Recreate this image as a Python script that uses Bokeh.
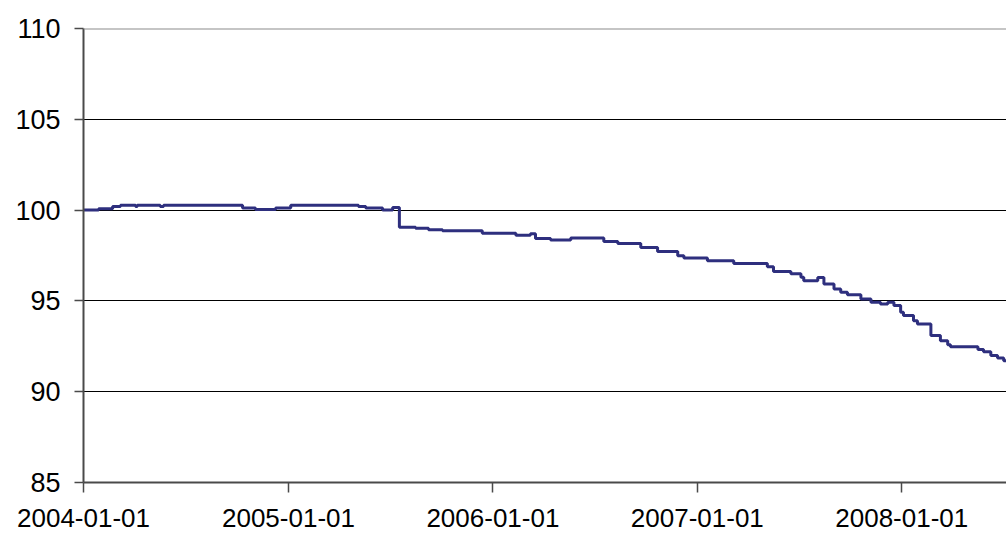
from datetime import datetime
from bokeh.plotting import figure
from bokeh.models import Range1d, FixedTicker, DatetimeTickFormatter, Span
from bokeh.embed import file_html
from bokeh.resources import INLINE

dates = [
    "2004-01-01", "2004-01-28", "2004-02-22", "2004-03-07", "2004-04-03", "2004-04-06",
    "2004-05-17", "2004-05-23", "2004-10-11", "2004-11-03", "2004-12-09", "2005-01-05",
    "2005-05-06", "2005-05-19", "2005-06-18", "2005-07-06", "2005-07-18", "2005-08-16",
    "2005-09-08", "2005-10-03", "2005-12-13", "2006-02-11", "2006-03-09", "2006-03-18",
    "2006-04-14", "2006-05-20", "2006-07-18", "2006-08-12", "2006-09-22", "2006-10-22",
    "2006-11-27", "2006-12-08", "2007-01-19", "2007-03-07", "2007-05-06", "2007-05-17",
    "2007-06-17", "2007-07-05", "2007-07-10", "2007-08-04", "2007-08-15", "2007-09-02",
    "2007-09-14", "2007-09-26", "2007-10-20", "2007-11-07", "2007-11-24", "2007-12-07",
    "2007-12-18", "2007-12-30", "2008-01-04", "2008-01-22", "2008-01-29", "2008-02-22",
    "2008-03-10", "2008-03-23", "2008-03-28", "2008-05-16", "2008-05-26", "2008-06-08",
    "2008-06-20", "2008-07-01", "2008-07-06",
]
values = [
    100.00, 100.08, 100.20, 100.27, 100.20, 100.27,
    100.20, 100.27, 100.11, 100.03, 100.11, 100.27,
    100.20, 100.11, 100.00, 100.15, 99.05, 99.00,
    98.92, 98.86, 98.73, 98.62, 98.70, 98.44,
    98.35, 98.46, 98.27, 98.16, 97.94, 97.72,
    97.49, 97.36, 97.21, 97.06, 96.88, 96.62,
    96.50, 96.30, 96.11, 96.29, 95.93, 95.65,
    95.47, 95.34, 95.10, 94.92, 94.83, 94.92,
    94.74, 94.37, 94.19, 93.91, 93.73, 93.09,
    92.81, 92.59, 92.48, 92.32, 92.20, 92.00,
    91.85, 91.70, 91.70,
]
x_ticks = ["2004-01-01", "2005-01-01", "2006-01-01", "2007-01-01", "2008-01-01"]
y_ticks = [85, 90, 95, 100, 105, 110]

xs = [datetime.strptime(d, "%Y-%m-%d") for d in dates]
tick_ms = [datetime.strptime(d, "%Y-%m-%d").timestamp() * 1000 for d in x_ticks]

p = figure(width=1006, height=536, x_axis_type="datetime",
           output_backend="svg", toolbar_location=None,
           x_range=Range1d(xs[0], xs[-1]), y_range=Range1d(85, 110),
           min_border_left=83, min_border_right=0, min_border_top=28,
           min_border_bottom=54)
p.outline_line_color = None
p.background_fill_color = "white"
p.border_fill_color = "white"

p.step(xs, values, mode="after", line_width=3, line_color="#2e2f7e")

p.xaxis.ticker = FixedTicker(ticks=tick_ms)
p.xaxis.formatter = DatetimeTickFormatter(days="%Y-%m-%d", months="%Y-%m-%d", years="%Y-%m-%d")
p.yaxis.ticker = FixedTicker(ticks=y_ticks)

for ax in (p.xaxis, p.yaxis):
    ax.axis_line_color = "#4a4a4a"
    ax.axis_line_width = 2
    ax.major_tick_line_color = "#4a4a4a"
    ax.major_tick_line_width = 1.5
    ax.major_tick_in = 0
    ax.major_tick_out = 9
    ax.minor_tick_line_color = None
    ax.major_label_text_font = "Liberation Sans"
    ax.major_label_text_font_size = "27px"
    ax.major_label_text_color = "black"
p.xaxis.major_label_text_font_size = "26px"
p.xaxis.major_tick_out = 10
p.xaxis.major_label_standoff = 16
p.yaxis.major_label_standoff = 14

p.xgrid.grid_line_color = None
p.ygrid.grid_line_color = "black"
p.ygrid.grid_line_width = 1
p.ygrid.ticker = FixedTicker(ticks=[90, 95, 100, 105])

top = Span(location=110, dimension="width", line_color="#8c8c8c", line_width=2)
p.add_layout(top)

open("out.html", "w").write(file_html(p, INLINE))
